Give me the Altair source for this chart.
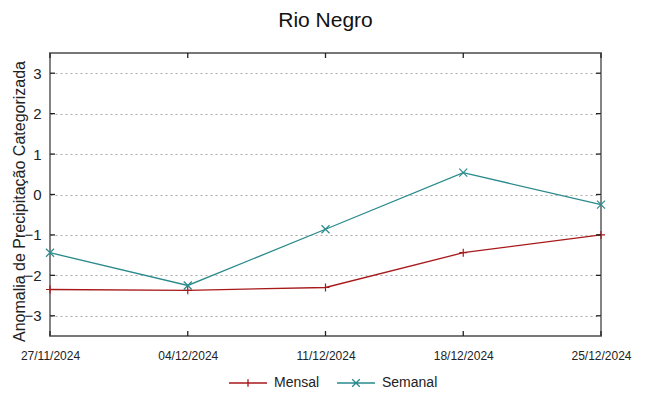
import altair as alt
import pandas as pd

datas = ["27/11/2024", "04/12/2024", "11/12/2024", "18/12/2024", "25/12/2024"]
mensal = [-2.35, -2.37, -2.30, -1.44, -1.00]
semanal = [-1.44, -2.25, -0.86, 0.54, -0.25]
series = ["Mensal", "Semanal"]
cores = ["#a8191b", "#2a8a8c"]
yticks = [-3, -2, -1, 0, 1, 2, 3]
ydomain = [-3.5, 3.5]

rows = []
for d, m, s in zip(datas, mensal, semanal):
    rows.append({"data": d, "valor": m, "serie": "Mensal"})
    rows.append({"data": d, "valor": s, "serie": "Semanal"})
df = pd.DataFrame(rows)

FONT = "Liberation Sans"
PLUS = "M-1,0H1M0,-1V1"
CROSS = "M-1,-1L1,1M-1,1L1,-1"
LEG_PLUS = "M-1,0H1M0,-0.2V0.2"
LEG_CROSS = "M-1,0H1M-0.2,-0.2L0.2,0.2M-0.2,0.2L0.2,-0.2"

x = alt.X("data:O", sort=datas, scale=alt.Scale(type="point", padding=0),
          axis=alt.Axis(title=None, labelAngle=0, labelFont=FONT, labelFontSize=12,
                        labelColor="#222", ticks=False, domain=False, labelPadding=14))
y = alt.Y("valor:Q", scale=alt.Scale(domain=ydomain, nice=False, zero=False),
          axis=alt.Axis(title="Anomalia de Precipitação Categorizada", values=yticks,
                        titleFont=FONT, titleFontSize=16, titleFontWeight="normal", titleColor="#222",
                        titleX=-31, titleY=148, titleBaseline="middle", titleAlign="center",
                        labelFont=FONT, labelFontSize=15, labelColor="#222",
                        labelPadding=9, ticks=False, domain=False,
                        grid=True, gridColor="#aaaaaa", gridDash=[2, 3], gridWidth=1))
cscale = alt.Scale(domain=series, range=cores)
leg = alt.Legend(title=None, orient="none", direction="horizontal",
                 legendX=178, legendY=310,
                 labelFont=FONT, labelFontSize=14, labelColor="#222",
                 symbolStrokeWidth=1.3, symbolSize=1444, columnPadding=14, labelOffset=6)
col = alt.Color("serie:N", scale=cscale, legend=leg)

base = alt.Chart(df)
lines = base.mark_line(strokeWidth=1.3).encode(x=x, y=y, color=col)
pts_m = base.transform_filter(alt.datum.serie == "Mensal").mark_point(
    shape=PLUS, filled=False, size=64, strokeWidth=1.2, opacity=1).encode(x=x, y=y, color=col)
pts_s = base.transform_filter(alt.datum.serie == "Semanal").mark_point(
    shape=CROSS, filled=False, size=64, strokeWidth=1.2, opacity=1).encode(x=x, y=y, color=col)
legend_layer = base.transform_filter("false").mark_point(filled=False, size=1444, strokeWidth=1.3, opacity=1).encode(
    x=x, y=y, color=col,
    shape=alt.Shape("serie:N", scale=alt.Scale(domain=series, range=[LEG_PLUS, LEG_CROSS]), legend=leg))

# inward border ticks (gnuplot style)
ytick_df = pd.DataFrame({"valor": yticks})
xtick_df = pd.DataFrame({"data": datas})
tick_color = "#222222"
left_t = alt.Chart(ytick_df).mark_tick(orient="horizontal", size=5, thickness=1.3, color=tick_color, xOffset=2.5, opacity=1).encode(
    x=alt.datum(datas[0], type="ordinal"), y=alt.Y("valor:Q"))
right_t = alt.Chart(ytick_df).mark_tick(orient="horizontal", size=5, thickness=1.3, color=tick_color, xOffset=-2.5, opacity=1).encode(
    x=alt.datum(datas[-1], type="ordinal"), y=alt.Y("valor:Q"))
bot_t = alt.Chart(xtick_df).mark_tick(orient="vertical", size=5, thickness=1.3, color=tick_color, yOffset=-2.5, opacity=1).encode(
    x=alt.X("data:O", sort=datas), y=alt.datum(ydomain[0]))
top_t = alt.Chart(xtick_df).mark_tick(orient="vertical", size=5, thickness=1.3, color=tick_color, yOffset=2.5, opacity=1).encode(
    x=alt.X("data:O", sort=datas), y=alt.datum(ydomain[1]))

chart = alt.layer(lines, pts_m, pts_s, legend_layer, left_t, right_t, bot_t, top_t).properties(
    width=551, height=283,
    title=alt.TitleParams("Rio Negro", font=FONT, fontSize=21, fontWeight="normal", color="#111",
                          anchor="middle", offset=22),
    autosize=alt.AutoSizeParams(type="none"),
    padding={"left": 42, "top": 45, "right": 40, "bottom": 60},
).configure(background="white", view=alt.ViewConfig(stroke="#777777", strokeWidth=1.8))

chart.save("out.html", embed_options={"renderer": "svg", "actions": False})
